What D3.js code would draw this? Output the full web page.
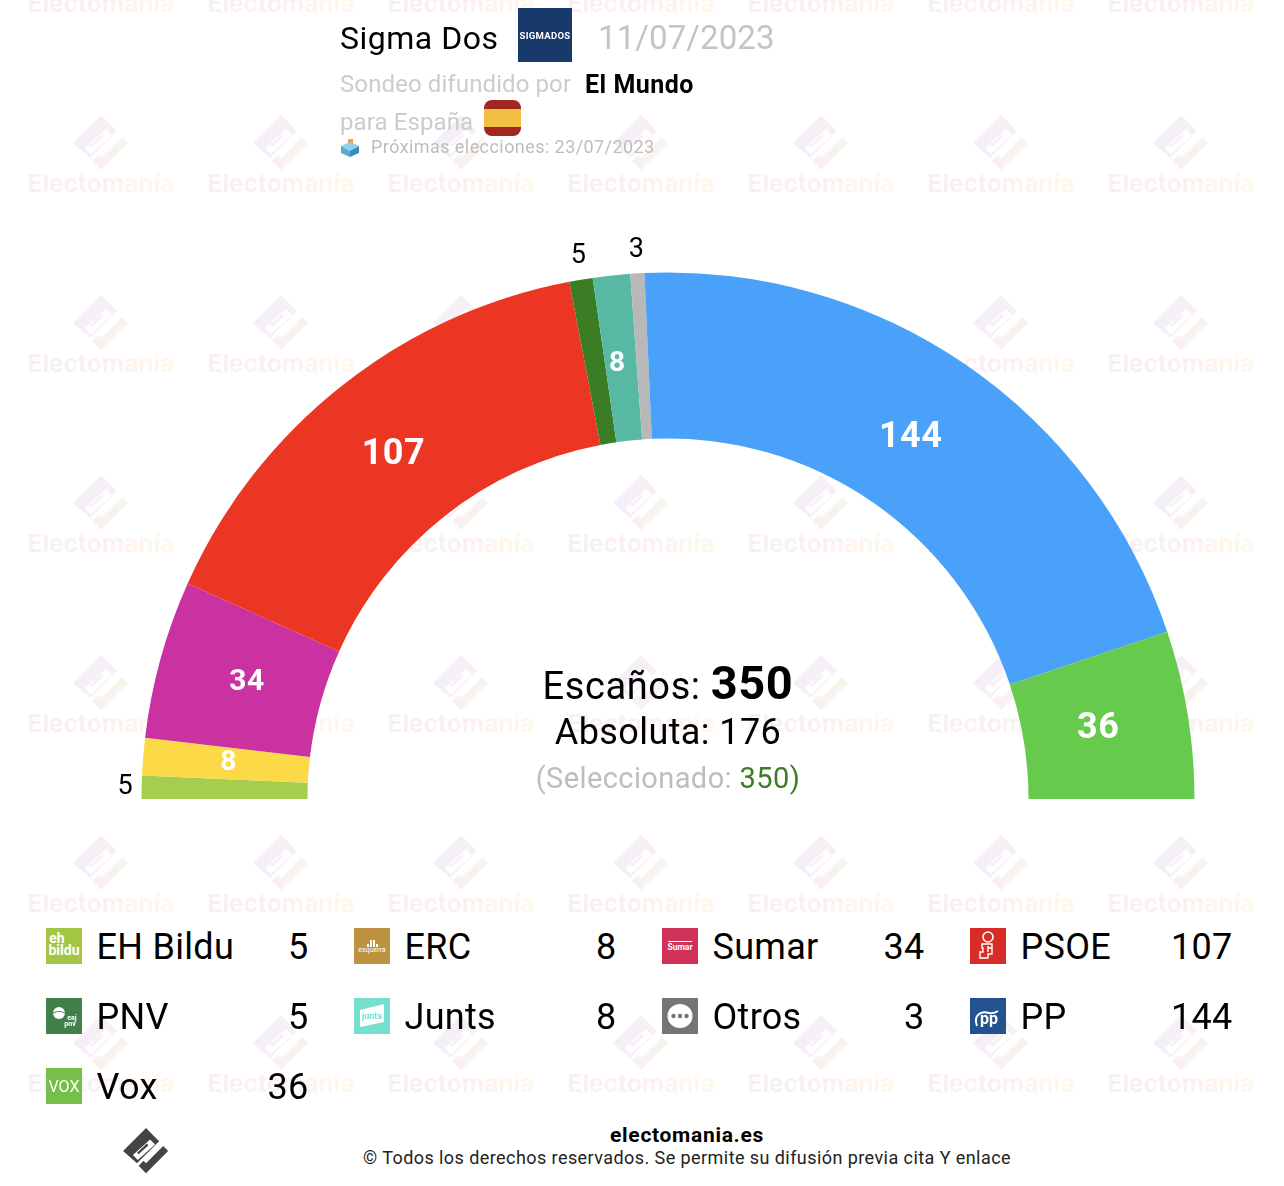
<!DOCTYPE html>
<html>
<head>
<meta charset="utf-8">
<title>Sigma Dos - Electomania</title>
<script src="https://cdn.jsdelivr.net/npm/d3@7"></script>
<style>
    body { margin: 0; background: #fff; }
    svg { display: block; }
    text { font-family: Roboto, sans-serif; }
</style>
</head>
<body>
<script>
//seats, in the order they sit on the hemicycle
var parties = ["EH Bildu", "ERC", "Sumar", "PSOE", "PNV", "Junts", "Otros", "PP", "Vox"];
var seats = [5, 8, 34, 107, 5, 8, 3, 144, 36];
var arcColors = ["#a5cd4e", "#fbd947", "#c932a0", "#ec3624", "#3a7d24", "#57b9a4", "#b8b8b8", "#49a1fa", "#66cb4d"];

//legend reads row by row, with its own icon colours
var legendOrder = ["EH Bildu", "ERC", "Sumar", "PSOE", "PNV", "Junts", "Otros", "PP", "Vox"];
var iconColors = ["#a3c644", "#bd9340", "#cf3158", "#d62e26", "#41804a", "#75dfd0", "#757575", "#23528f", "#75bf4a"];

var pollster = "Sigma Dos";
var pollDate = "11/07/2023";
var media = "El Mundo";
var nextElection = "23/07/2023";
var totalSeats = 350;
var majority = 176;
var selected = 350;

var width = 1284,
    height = 1186;

var svg = d3.select("body")
    .append("svg")
    .attr("width", width)
    .attr("height", height);

var seatOf = d3.scaleOrdinal(parties, seats);
var arcColor = d3.scaleOrdinal(parties, arcColors);
var iconColor = d3.scaleOrdinal(parties, iconColors);

drawWatermark();
drawArcs();
drawCentre();
drawHeader();
drawLegend();
drawFooter();

//repeated logo + name behind everything
function drawWatermark(){
    var defs = svg.append("defs");
    gradient("wmText", ["#f4eaee", "#fbeaea", "#fff5e2"]);
    gradient("wmBox", ["#eee7f6", "#f6eaf0"]);
    gradient("wmCheck", ["#f8e9ea", "#f3f0e4"]);

    function gradient(id, stops){
        defs.append("linearGradient").attr("id", id)
            .selectAll("stop").data(stops).enter().append("stop")
            .attr("offset", function(d, i){ return i / (stops.length - 1); })
            .attr("stop-color", function(d){ return d; });
    }

    var cells = [];
    d3.range(7).forEach(function(j){
        d3.range(7).forEach(function(i){
            cells.push([101 + 180 * i, -37 + 180 * j]);
        });
    });

    var cell = svg.append("g").attr("opacity", 0.7)
        .selectAll("g").data(cells).enter().append("g")
        .attr("transform", function(d){ return "translate(" + d + ")"; });
    logoShape(cell, "url(#wmBox)", "url(#wmCheck)", 1);
    cell.append("text")
        .attr("y", 49)
        .attr("text-anchor", "middle")
        .attr("font-size", 24.5)
        .attr("font-weight", 700)
        .style("font-family", "Inter")
        .attr("fill", "url(#wmText)")
        .text("Electomanía");
}

//logo drawn around its own centre
function logoShape(sel, boxFill, checkFill, k){
    var g = sel.append("g").attr("transform", "scale(" + k + ")");
    g.append("path")
        .attr("fill", boxFill)
        .attr("fill-rule", "evenodd")
        .attr("d", "M0,-28L16,-12L-11,15L-28,0ZM5,-14L-16,5L-10,11L11,-8Z M1,-9L-11,2L-9,4L3,-7Z");
    g.append("path")
        .attr("fill", checkFill)
        .attr("d", "M21,-6L27,0L0,27L-9,18L-3,12L0,15Z");
}

//half donut, left to right
function drawArcs(){
    var cx = 668,
        cy = 799,
        rOuter = 526.5,
        rInner = 360.5;

    var pie = d3.pie()
        .sort(null)
        .value(function(d){ return seatOf(d); })
        .startAngle(-Math.PI / 2)
        .endAngle(Math.PI / 2);

    var arc = d3.arc().innerRadius(rInner).outerRadius(rOuter);
    var slices = pie(parties);
    var chart = svg.append("g").attr("transform", "translate(" + cx + "," + cy + ")");

    chart.selectAll("path").data(slices).enter().append("path")
        .attr("d", arc)
        .attr("fill", function(d){ return arcColor(d.data); });

    var labelSize = d3.scaleThreshold().domain([20, 36]).range([28, 30, 36]);
    function mid(d){ return (d.startAngle + d.endAngle) / 2; }

    //small nudges so the numbers sit where the original has them
    var nudge = {"EH Bildu": [0, -2], "Sumar": [6, -2], "ERC": [2, -3], "Junts": [-3, 2], "PP": [-8, 0], "Vox": [-7, -3]};

    chart.selectAll(".inside").data(slices.filter(function(d){ return d.value > 5; })).enter().append("text")
        .attr("class", "inside")
        .attr("x", function(d){ return 443 * Math.sin(mid(d)) + (nudge[d.data] || [0, 0])[0]; })
        .attr("y", function(d){ return -443 * Math.cos(mid(d)) + (nudge[d.data] || [0, 0])[1]; })
        .attr("dy", "0.36em")
        .attr("text-anchor", "middle")
        .attr("fill", "#fff")
        .attr("font-weight", 700)
        .attr("font-size", function(d){ return labelSize(d.value); })
        .attr("letter-spacing", 0.5)
        .text(function(d){ return d.value; });

    chart.selectAll(".outside").data(slices.filter(function(d){ return d.value <= 5; })).enter().append("text")
        .attr("class", "outside")
        .attr("x", function(d){ return 543 * Math.sin(mid(d)) + (nudge[d.data] || [0, 0])[0]; })
        .attr("y", function(d){ return -553 * Math.cos(mid(d)) + (nudge[d.data] || [0, 0])[1]; })
        .attr("dy", "0.36em")
        .attr("text-anchor", "middle")
        .attr("fill", "#000")
        .attr("font-size", 27)
        .text(function(d){ return d.value; });
}

function drawCentre(){
    var g = svg.append("g").attr("text-anchor", "middle");

    var t1 = g.append("text").attr("x", 668).attr("y", 699).attr("font-size", 38).attr("letter-spacing", 0.6);
    t1.append("tspan").text("Escaños: ");
    t1.append("tspan").attr("font-weight", 700).attr("font-size", 47).text(totalSeats);

    g.append("text").attr("x", 668).attr("y", 744).attr("font-size", 36).attr("letter-spacing", 0.4)
        .text("Absoluta: " + majority);

    var t3 = g.append("text").attr("x", 668).attr("y", 788).attr("font-size", 29).attr("letter-spacing", 0.4).attr("fill", "#bdbdbd");
    t3.append("tspan").text("(Seleccionado: ");
    t3.append("tspan").attr("fill", "#3a7d24").text(selected);
    t3.append("tspan").attr("fill", "#3a7d24").text(")");
}

function drawHeader(){
    svg.append("text").attr("x", 340).attr("y", 49).attr("font-size", 32).attr("letter-spacing", 0.5).text(pollster);

    svg.append("rect").attr("x", 518).attr("y", 8).attr("width", 54).attr("height", 54).attr("fill", "#183a6b");
    svg.append("text").attr("x", 545).attr("y", 38.5).attr("text-anchor", "middle")
        .attr("font-size", 9.5).attr("font-weight", 700).attr("fill", "#fff").attr("letter-spacing", 0.3).text("SIGMADOS");

    svg.append("text").attr("x", 598).attr("y", 49).attr("font-size", 33).attr("letter-spacing", 0.1)
        .attr("fill", "#c4c4c4").text(pollDate);

    svg.append("text").attr("x", 340).attr("y", 92).attr("font-size", 24).attr("letter-spacing", 0.1)
        .attr("fill", "#cccccc").text("Sondeo difundido por");
    svg.append("text").attr("x", 585).attr("y", 93).attr("font-size", 25).attr("font-weight", 700).attr("letter-spacing", 0.5).text(media);

    svg.append("text").attr("x", 340).attr("y", 130).attr("font-size", 24).attr("letter-spacing", 0.1)
        .attr("fill", "#cccccc").text("para España");

    //flag
    var flag = svg.append("g");
    flag.append("rect").attr("x", 484).attr("y", 100).attr("width", 37).attr("height", 36).attr("rx", 8).attr("fill", "#a12720");
    flag.append("rect").attr("x", 484).attr("y", 109).attr("width", 37).attr("height", 18).attr("fill", "#f1bf41");

    //ballot box
    var box = svg.append("g");
    box.append("rect").attr("x", 348).attr("y", 139).attr("width", 5).attr("height", 8).attr("fill", "#f0a04b");
    box.append("path").attr("d", "M341,146L350,142L359,146L350,151Z").attr("fill", "#8fd0e8");
    box.append("path").attr("d", "M341,146L350,151L350,157L341,153Z").attr("fill", "#5aa9cf");
    box.append("path").attr("d", "M359,146L350,151L350,157L359,153Z").attr("fill", "#3b8cb8");

    svg.append("text").attr("x", 371).attr("y", 153).attr("font-size", 18).attr("letter-spacing", 0.43)
        .attr("fill", "#bdbdbd").text("Próximas elecciones: " + nextElection);
}

function drawLegend(){
    var columns = 4;
    var x = d3.scalePoint().domain(d3.range(columns)).range([46, 970]);
    var y = d3.scalePoint().domain(d3.range(3)).range([928, 1068]);

    var row = svg.append("g").selectAll("g").data(legendOrder).enter().append("g")
        .attr("transform", function(d, i){
            return "translate(" + x(i % columns) + "," + y(Math.floor(i / columns)) + ")";
        });

    row.append("rect")
        .attr("width", 36)
        .attr("height", 36)
        .attr("fill", function(d){ return iconColor(d); });
    row.each(function(d){ drawIcon(d3.select(this), d); });

    row.append("text")
        .attr("x", 50.5)
        .attr("y", 30.5)
        .attr("font-size", 36)
        .attr("letter-spacing", 0.3)
        .text(function(d){ return d; });

    row.append("text")
        .attr("x", 262.5)
        .attr("y", 30.5)
        .attr("text-anchor", "end")
        .attr("font-size", 36)
        .attr("letter-spacing", 0.3)
        .text(function(d){ return seatOf(d); });
}

//very small party marks inside the legend squares
function drawIcon(g, party){
    function label(txt, x, y, size, weight, color){
        return g.append("text").attr("x", x).attr("y", y).attr("text-anchor", "middle")
            .attr("font-size", size).attr("font-weight", weight || 700)
            .attr("fill", color || "#fff").text(txt);
    }
    if(party == "EH Bildu"){
        label("eh", 11, 15, 14);
        label("bildu", 18, 27, 14);
    } else if(party == "ERC"){
        g.append("path").attr("fill", "#fff").attr("d", "M13,19h2v-3h-2zM16,19h2v-7h-2zM19,19h2v-7h-2zM22,19h2v-3h-2z");
        label("esquerra", 18, 24, 7, 400);
    } else if(party == "Sumar"){
        g.append("rect").attr("x", 6).attr("y", 13).attr("width", 24).attr("height", 1).attr("fill", "#fff");
        label("Sumar", 18, 22, 8.5);
    } else if(party == "PSOE"){
        g.append("circle").attr("cx", 18).attr("cy", 9).attr("r", 5).attr("fill", "none").attr("stroke", "#fff").attr("stroke-width", 1.6);
        g.append("path").attr("fill", "none").attr("stroke", "#fff").attr("stroke-width", 1.4)
            .attr("d", "M12,16h10v10h-4v4h-8v-6h3v-4h-1z M18,18v6 M22,20h-4");
    } else if(party == "PNV"){
        g.append("circle").attr("cx", 13).attr("cy", 15).attr("r", 6).attr("fill", "#fff");
        g.append("path").attr("d", "M7,15q6,-3 12,0").attr("stroke", "#41804a").attr("stroke-width", 1.2).attr("fill", "none");
        label("eaj", 26, 22, 7);
        label("pnv", 24, 28, 7);
    } else if(party == "Junts"){
        g.append("path").attr("fill", "#fff").attr("d", "M6,12L30,6V24L6,29Z");
        label("junts", 18, 21, 9, 700, "#75dfd0");
    } else if(party == "Otros"){
        g.append("ellipse").attr("cx", 18).attr("cy", 18).attr("rx", 12.5).attr("ry", 12).attr("fill", "#fff");
        g.selectAll("circle.dot").data(["a", "b", "c"]).enter().append("circle")
            .attr("class", "dot").attr("cx", function(d, i){ return 11.5 + 6.5 * i; }).attr("cy", 18).attr("r", 2.2).attr("fill", "#757575");
    } else if(party == "PP"){
        label("pp", 19, 26, 16);
        g.append("path").attr("fill", "none").attr("stroke", "#fff").attr("stroke-width", 2).attr("d", "M7,28q-3,-8 2,-12q4,-3 10,-1q5,1 9,-2");
    } else if(party == "Vox"){
        label("VOX", 18, 23.5, 16, 400);
    }
}

function drawFooter(){
    var logo = svg.append("g").attr("transform", "translate(146,1151) scale(0.82)");
    logoShape(logo, "#444444", "#444444", 1);

    svg.append("text").attr("x", 687).attr("y", 1142).attr("text-anchor", "middle")
        .attr("font-size", 21).attr("font-weight", 700).attr("letter-spacing", 0.7).text("electomania.es");
    svg.append("text").attr("x", 687).attr("y", 1164).attr("text-anchor", "middle")
        .attr("font-size", 18).attr("letter-spacing", 0.43).attr("fill", "#222")
        .text("© Todos los derechos reservados. Se permite su difusión previa cita Y enlace");
}
</script>
</body>
</html>
